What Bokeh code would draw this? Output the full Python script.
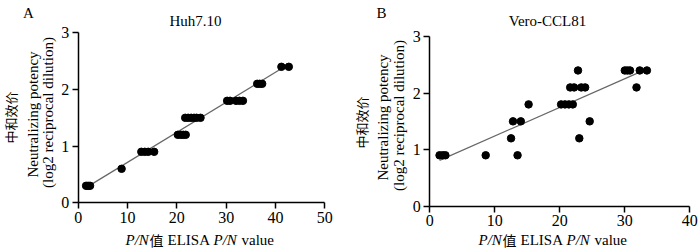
import math
from bokeh.plotting import figure
from bokeh.layouts import row
from bokeh.models import Range1d, FixedTicker, Label
from bokeh.embed import file_html
from bokeh.resources import INLINE

# ---------------- data ----------------
huh_x = [1.6, 2.0, 2.4, 8.8, 12.8, 13.5, 14.2, 15.4, 20.2, 20.8, 21.3, 21.8,
         21.7, 22.3, 22.9, 23.5, 24.0, 24.8, 30.2, 30.8, 32.0, 32.7, 33.4,
         36.3, 36.8, 37.3, 41.2, 42.7]
huh_y = [0.3, 0.3, 0.3, 0.6, 0.9, 0.9, 0.9, 0.9, 1.2, 1.2, 1.2, 1.2,
         1.5, 1.5, 1.5, 1.5, 1.5, 1.5, 1.8, 1.8, 1.8, 1.8, 1.8,
         2.1, 2.1, 2.1, 2.4, 2.4]
huh_fit_x = [2.0, 42.0]
huh_fit_y = [0.29, 2.41]

vero_x = [1.5, 2.0, 2.4, 8.6, 12.5, 12.8, 13.5, 14.0, 15.2, 20.2, 20.8, 21.4,
          22.0, 21.6, 22.2, 23.3, 23.9, 22.8, 23.0, 24.6, 30.0, 30.4, 30.8,
          31.8, 32.3, 33.4]
vero_y = [0.9, 0.9, 0.9, 0.9, 1.2, 1.5, 0.9, 1.5, 1.8, 1.8, 1.8, 1.8,
          1.8, 2.1, 2.1, 2.1, 2.1, 2.4, 1.2, 1.5, 2.4, 2.4, 2.4,
          2.1, 2.4, 2.4]
vero_fit_x = [1.5, 32.3]
vero_fit_y = [0.81, 2.37]

x_ticks_a = [0, 10, 20, 30, 40, 50]
x_ticks_b = [0, 10, 20, 30, 40]
y_ticks = [0, 1, 2, 3]

SERIF = "Liberation Serif"
CJK = "Noto Sans CJK SC"
FIG_W, FIG_H = 350, 252


def make_panel(xs, ys, fx, fy, xmax, xticks, page_left, fl, fr, ft, fb):
    # fl..fr / ft..fb : page pixels of the axis box (x 0..xmax, y 0..3)
    kx = (fr - fl) / xmax
    ky = (fb - ft) / 3.0
    x0 = (page_left - fl) / kx
    x1 = (page_left + FIG_W - fl) / kx
    y0 = -(FIG_H - fb) / ky
    y1 = 3.0 + ft / ky
    p = figure(width=FIG_W, height=FIG_H, output_backend="svg", toolbar_location=None,
               x_range=Range1d(x0, x1), y_range=Range1d(y0, y1),
               min_border=0)
    p.outline_line_color = None
    p.grid.visible = False
    p.background_fill_color = "white"
    p.border_fill_color = "white"
    for ax in (p.xaxis[0], p.yaxis[0]):
        ax.fixed_location = 0
        ax.axis_line_width = 1.5
        ax.axis_line_color = "black"
        ax.major_tick_line_width = 1.5
        ax.major_tick_line_color = "black"
        ax.major_tick_out = 6
        ax.major_tick_in = 0
        ax.minor_tick_out = 0
        ax.minor_tick_in = 0
        ax.major_label_text_font = SERIF
        ax.major_label_text_font_size = "16px"
        ax.major_label_text_color = "black"
        ax.major_label_standoff = 3
    p.xaxis[0].ticker = FixedTicker(ticks=xticks)
    p.yaxis[0].ticker = FixedTicker(ticks=y_ticks)
    p.xaxis[0].bounds = (0, xmax)
    p.yaxis[0].bounds = (0, 3)

    p.line(fx, fy, line_color="#666666", line_width=1.2)
    p.scatter(xs, ys, size=7.5, fill_color="black", line_color="black")

    def lab(text, px, py, size="15px", font=SERIF, style="normal", angle=0.0,
            align="center"):
        p.add_layout(Label(x=(px - fl) / kx, y=(fb - py) / ky,
                           text=text, text_font=font,
                           text_font_size=size, text_font_style=style,
                           text_align=align, text_baseline="middle",
                           angle=angle, text_color="black"))
    return p, lab


pA, labA = make_panel(huh_x, huh_y, huh_fit_x, huh_fit_y, 50, x_ticks_a,
                      0, 77.7, 324.3, 32.3, 202.3)
labA("A", 28, 12.5)
labA("Huh7.10", 195, 20)
labA("中和效价", 9.5, 117, size="13px", font=CJK, angle=math.pi / 2)
labA("Neutralizing potency", 32, 114, angle=math.pi / 2)
labA("(log2 reciprocal dilution)", 47, 112, angle=math.pi / 2)
s = 125
labA("P/N", s, 239, style="italic", align="left")
labA("值", s + 24, 239, size="14px", font=CJK, align="left")
labA("ELISA", s + 42, 239, align="left")
labA("P/N", s + 88, 239, style="italic", align="left")
labA("value", s + 116, 239, align="left")

pB, labB = make_panel(vero_x, vero_y, vero_fit_x, vero_fit_y, 40, x_ticks_b,
                      350, 429.3, 689.3, 36, 205.7)
labB("B", 381, 12.5)
labB("Vero-CCL81", 547, 20)
labB("中和效价", 361, 122, size="13px", font=CJK, angle=math.pi / 2)
labB("Neutralizing potency", 382, 117, angle=math.pi / 2)
labB("(log2 reciprocal dilution)", 398, 115, angle=math.pi / 2)
s = 478
labB("P/N", s, 239, style="italic", align="left")
labB("值", s + 24, 239, size="14px", font=CJK, align="left")
labB("ELISA", s + 42, 239, align="left")
labB("P/N", s + 88, 239, style="italic", align="left")
labB("value", s + 116, 239, align="left")

layout = row(pA, pB)
open("out.html", "w").write(file_html(layout, INLINE))
